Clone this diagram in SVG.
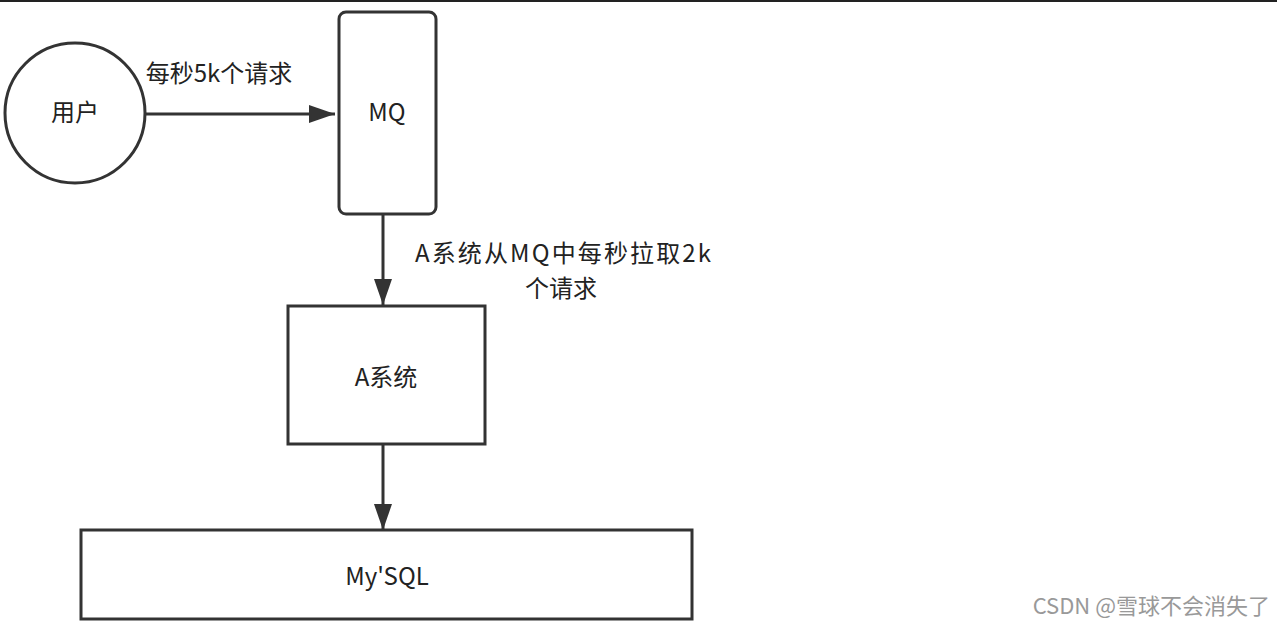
<svg xmlns="http://www.w3.org/2000/svg" width="1277" height="628" viewBox="0 0 1277 628">
<style>
.s{fill:#fff;stroke:#333;stroke-width:3}
.t{font-family:"Noto Sans CJK SC","Liberation Sans",sans-serif;font-size:24px;fill:#222}
.c{stroke:#333;stroke-width:3;fill:none}
</style>
<defs><marker id="a" markerWidth="26" markerHeight="20" refX="26" refY="10" orient="auto" markerUnits="userSpaceOnUse" viewBox="0 0 26 20"><path d="M0,1 L26,10 L0,19 z" fill="#333"/></marker></defs>
<rect width="1277" height="628" fill="#fff"/>
<rect width="1277" height="2" fill="#222"/>
<g id="edges">
<line class="c" x1="145" y1="114" x2="335" y2="114" marker-end="url(#a)"/>
<line class="c" x1="383" y1="214" x2="383" y2="305" marker-end="url(#a)"/>
<line class="c" x1="383" y1="444" x2="383" y2="530" marker-end="url(#a)"/>
<text class="t" x="219" y="82" text-anchor="middle">每秒5k个请求</text>
<text class="t" x="563" y="262" text-anchor="middle" textLength="296">A系统从MQ中每秒拉取2k</text>
<text class="t" x="561" y="297" text-anchor="middle">个请求</text>
</g>
<g id="user"><circle class="s" cx="75" cy="113" r="70"/><text class="t" x="75" y="121" text-anchor="middle">用户</text></g>
<g id="mq"><rect class="s" x="339" y="12" width="97" height="202" rx="7"/><text class="t" x="387" y="121" text-anchor="middle">MQ</text></g>
<g id="asys"><rect class="s" x="288" y="306" width="197" height="138"/><text class="t" x="386" y="386" text-anchor="middle">A系统</text></g>
<g id="mysql"><rect class="s" x="81" y="530" width="611" height="89"/><text class="t" x="387" y="585" text-anchor="middle">My'SQL</text></g>
<text x="1270" y="614" text-anchor="end" style="font-family:'Noto Sans CJK SC','Liberation Sans',sans-serif;font-size:22px;fill:#999">CSDN @雪球不会消失了</text>
</svg>
